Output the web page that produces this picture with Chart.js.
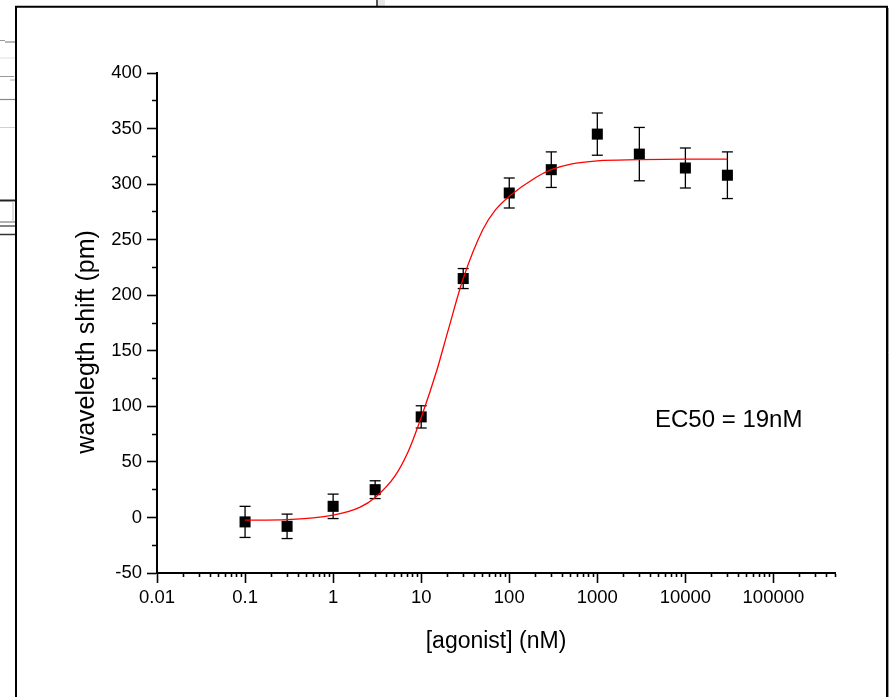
<!DOCTYPE html>
<html><head><meta charset="utf-8">
<script src="https://cdn.jsdelivr.net/npm/chart.js@4.4.1/dist/chart.umd.min.js"></script>
<style>html,body{margin:0;padding:0;background:#fff;overflow:hidden}canvas{display:block}</style>
</head><body>
<canvas id="c" width="895" height="697"></canvas>
<script>
// ---- data ----
const concentrations = [0.1, 0.3, 1, 3, 10, 30, 100, 300, 1000, 3000, 10000, 30000];
const shifts         = [-4, -8, 10, 25, 90.5, 215, 292, 313, 345, 327, 314.5, 308];
const shiftErrors    = [14, 11, 11, 8, 10, 9, 13.5, 16, 19, 24, 18, 21];

const fitConc  = [0.1, 0.3, 1, 2, 3, 5, 7, 10, 15, 20, 30, 50, 70, 100, 200, 300, 500, 1000, 3000, 10000, 30000];
const fitShift = [-2.5, -2, 2, 9, 18, 37, 58, 90, 132, 167, 215, 259, 277, 289, 306, 313, 318, 321, 322, 322.5, 322.5];

const xMajorTicks = [0.01, 0.1, 1, 10, 100, 1000, 10000, 100000];
const xTickLabels = ['0.01', '0.1', '1', '10', '100', '1000', '10000', '100000'];
const yMajorTicks = [-50, 0, 50, 100, 150, 200, 250, 300, 350, 400];
const yTickLabels = ['-50', '0', '50', '100', '150', '200', '250', '300', '350', '400'];
const xMin = 0.01, xMax = 500000, yMin = -50, yMax = 400;
const xTitle = '[agonist] (nM)';
const yTitle = 'wavelegth shift (pm)';
const annotationText = 'EC50 = 19nM';

// minor ticks (2..9 per decade on x, halfway on y)
const xMinorTicks = [];
xMajorTicks.forEach(d => { for (let m = 2; m <= 9; m++) { const v = +(m * d).toPrecision(3); if (v <= xMax) xMinorTicks.push(v); } });
const yMinorTicks = yMajorTicks.slice(0, -1).map(v => v + 25);

const pointsData = concentrations.map((c, i) => ({x: c, y: shifts[i]}));
const errorData = [];
concentrations.forEach((c, i) => {
  errorData.push({x: c, y: shifts[i] - shiftErrors[i]});
  errorData.push({x: c, y: shifts[i] + shiftErrors[i]});
  errorData.push({x: c, y: null});
});
const fitData = fitConc.map((c, i) => ({x: c, y: fitShift[i]}));

const FONT = '"Liberation Sans", Arial, Helvetica, sans-serif';
Chart.defaults.font.family = FONT;
Chart.defaults.color = '#000';

const backdrop = {
  id: 'backdrop',
  beforeDraw(chart) {
    const ctx = chart.ctx;
    ctx.save();
    ctx.fillStyle = '#fff';
    ctx.fillRect(0, 0, chart.width, chart.height);
    // screenshot remnants at the left edge
    const hl = (y, x1, x2, col, w) => { ctx.strokeStyle = col; ctx.lineWidth = w; ctx.beginPath(); ctx.moveTo(x1, y); ctx.lineTo(x2, y); ctx.stroke(); };
    hl(40.5, 0, 5, '#999', 1); hl(42, 5, 16, '#888', 1.2);
    hl(58, 0, 16, '#e0e0e0', 1);
    hl(76.5, 0, 14, '#999', 1); hl(80, 10, 16, '#aaa', 1);
    hl(99.5, 0, 16, '#888', 1.2);
    hl(127.5, 0, 16, '#d0d0d0', 1);
    hl(200.5, 0, 16, '#222', 2);
    hl(222, 0, 16, '#666', 1); hl(226, 0, 16, '#333', 1.2); hl(234.5, 0, 16, '#333', 1.5);
    ctx.strokeStyle = '#bbb'; ctx.lineWidth = 1; ctx.beginPath(); ctx.moveTo(13, 201); ctx.lineTo(13, 222); ctx.stroke();
    // top remnant
    ctx.fillStyle = '#555'; ctx.fillRect(376, 0, 2, 6);
    ctx.fillStyle = '#e8e8e8'; ctx.fillRect(378, 0, 7, 6);
    // frame
    ctx.strokeStyle = '#000'; ctx.lineWidth = 2;
    ctx.beginPath();
    ctx.moveTo(16, 697); ctx.lineTo(16, 6.8); ctx.lineTo(887, 6.8); ctx.lineTo(887, 697);
    ctx.stroke();
    ctx.strokeStyle = '#999'; ctx.lineWidth = 1;
    ctx.beginPath(); ctx.moveTo(888.5, 8); ctx.lineTo(888.5, 697); ctx.stroke();
    ctx.restore();
  }
};

const annotation = {
  id: 'annotation',
  afterDraw(chart) {
    const ctx = chart.ctx;
    ctx.save();
    ctx.fillStyle = '#000';
    // EC50 label
    ctx.font = '24px ' + FONT;
    ctx.textAlign = 'left';
    ctx.textBaseline = 'alphabetic';
    ctx.fillText(annotationText, 655, 427);
    // y axis title
    ctx.font = '25px ' + FONT;
    ctx.translate(87, 342);
    ctx.rotate(-Math.PI / 2);
    ctx.textAlign = 'center';
    ctx.textBaseline = 'middle';
    ctx.fillText(yTitle, 0, 0);
    ctx.restore();
  }
};

const isXMajor = v => xMajorTicks.indexOf(v) >= 0;
const isYMajor = v => yMajorTicks.indexOf(v) >= 0;

new Chart(document.getElementById('c'), {
  type: 'scatter',
  data: {
    datasets: [
      {
        label: 'fit', data: fitData, showLine: true, order: 0,
        borderColor: '#ff0000', borderWidth: 1.3, pointRadius: 0,
        cubicInterpolationMode: 'monotone', fill: false
      },
      {
        label: 'points', data: pointsData, order: 1,
        pointStyle: 'rect', pointRadius: 7.8, backgroundColor: '#000', borderWidth: 0
      },
      {
        label: 'errors', data: errorData, showLine: true, spanGaps: false, order: 2,
        borderColor: '#000', borderWidth: 1.3,
        pointStyle: 'line', pointRadius: 5.5, pointBorderColor: '#000', pointBorderWidth: 1.3
      }
    ]
  },
  options: {
    responsive: false,
    animation: false,
    events: [],
    layout: {padding: {left: 0, top: 73, right: 60, bottom: 0}},
    plugins: {legend: {display: false}, tooltip: {enabled: false}},
    scales: {
      x: {
        type: 'logarithmic', position: 'bottom', min: xMin, max: xMax,
        afterBuildTicks: s => { s.ticks = xMajorTicks.concat(xMinorTicks).sort((a, b) => a - b).map(v => ({value: v})); },
        afterFit: s => { s.height = 124; },
        border: {display: true, color: '#000', width: 2},
        grid: {
          display: true, drawOnChartArea: false, drawTicks: true, tickLength: 10,
          tickColor: '#000', tickWidth: 1.6,
          tickBorderDash: c => (c.tick && !isXMajor(c.tick.value)) ? [3, 100] : []
        },
        ticks: {
          autoSkip: false, maxRotation: 0, minRotation: 0, padding: 4, color: '#000', font: {size: 18.5},
          callback: v => { const i = xMajorTicks.indexOf(v); return i >= 0 ? xTickLabels[i] : ''; }
        },
        title: {display: true, text: xTitle, color: '#000', font: {size: 23}, padding: {top: 0, bottom: 42}}
      },
      y: {
        type: 'linear', position: 'left', min: yMin, max: yMax,
        afterBuildTicks: s => { s.ticks = yMajorTicks.concat(yMinorTicks).sort((a, b) => a - b).map(v => ({value: v})); },
        afterFit: s => { s.width = 157; },
        border: {display: true, color: '#000', width: 2},
        grid: {
          display: true, drawOnChartArea: false, drawTicks: true, tickLength: 10,
          tickColor: '#000', tickWidth: 1.6,
          tickBorderDash: c => (c.tick && !isYMajor(c.tick.value)) ? [0, 5, 4, 100] : []
        },
        ticks: {
          autoSkip: false, padding: 5, color: '#000', font: {size: 18.5},
          callback: v => { const i = yMajorTicks.indexOf(v); return i >= 0 ? yTickLabels[i] : ''; }
        },
        title: {display: false}
      }
    }
  },
  plugins: [backdrop, annotation]
});
</script>
</body></html>
